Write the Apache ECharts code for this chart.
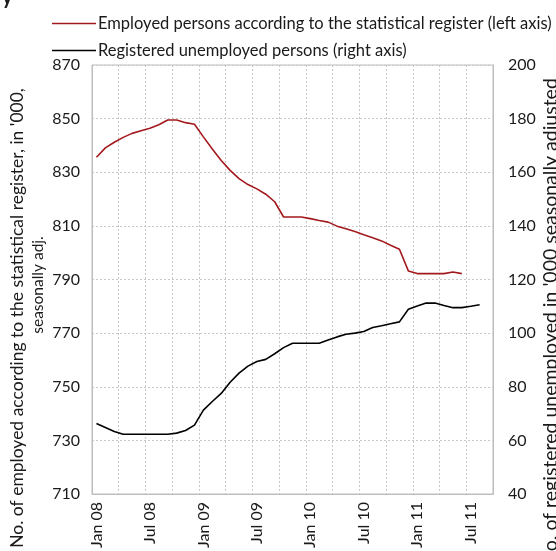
<!DOCTYPE html>
<html><head><meta charset="utf-8">
<script src="https://cdn.jsdelivr.net/npm/echarts@6/dist/echarts.min.js"></script>
<style>html,body{margin:0;padding:0;background:#fff}#c{width:556px;height:551px}</style>
</head><body><div id="c"></div>
<script>
const months = ['Jan 08','Feb 08','Mar 08','Apr 08','May 08','Jun 08','Jul 08','Aug 08','Sep 08','Oct 08','Nov 08','Dec 08',
  'Jan 09','Feb 09','Mar 09','Apr 09','May 09','Jun 09','Jul 09','Aug 09','Sep 09','Oct 09','Nov 09','Dec 09',
  'Jan 10','Feb 10','Mar 10','Apr 10','May 10','Jun 10','Jul 10','Aug 10','Sep 10','Oct 10','Nov 10','Dec 10',
  'Jan 11','Feb 11','Mar 11','Apr 11','May 11','Jun 11','Jul 11','Aug 11','Sep 11'];
const employed = [835.6,839.1,841.2,843.0,844.5,845.5,846.4,847.7,849.5,849.5,848.5,847.9,
  843.2,838.7,834.4,830.7,827.6,825.4,823.8,821.8,819.0,813.3,813.3,813.3,
  812.7,812.0,811.4,809.9,808.9,807.9,806.7,805.6,804.4,802.8,801.3,793.2,
  792.2,792.2,792.2,792.2,792.8,792.2,null,null,null];
const unemployed = [66.3,64.8,63.3,62.3,62.3,62.3,62.3,62.3,62.3,62.7,63.7,65.7,
  71.3,74.5,77.5,81.7,85.1,87.7,89.4,90.2,92.3,94.6,96.2,96.2,
  96.2,96.2,97.4,98.6,99.6,100.0,100.6,102.1,102.75,103.5,104.2,108.9,
  110.1,111.2,111.2,110.3,109.5,109.5,110.0,110.6,null];
const seriesNames = ['Employed persons according to the statistical register (left axis)','Registered unemployed persons (right axis)'];
const leftAxisTitle = ["No. of employed according to the statistical register, in '000,", 'seasonally adj.'];
const rightAxisTitle = "No. of registered unemployed in '000 seasonally adjusted";
const titleFragment = 'y';
const leftRange = [710, 870];
const rightRange = [40, 200];
const tickStep = 20;

const FONT = 'Lato';
const red = '#a31a1e';
const ink = '#1a1a1a';
const splitStyle = {color:'#c8c8c8', width:1, type:[2,2]};

const chart = echarts.init(document.getElementById('c'));
chart.setOption({
  animation:false,
  textStyle:{fontFamily:FONT},
  legend:{orient:'vertical', left:47, top:10, itemWidth:44, itemHeight:1.6, itemGap:10,
    icon:'rect', textStyle:{fontFamily:FONT, fontSize:16.5, color:ink, padding:[0,0,0,-3]},
    data:seriesNames},
  grid:{left:92, right:63, top:65, bottom:57, show:true, borderColor:'#bdbdbd', borderWidth:1, outerBoundsMode:'none'},
  xAxis:{type:'category', data:months, boundaryGap:true,
    axisLine:{lineStyle:{color:'#bdbdbd'}}, axisTick:{show:false, interval:2},
    axisLabel:{interval:5, rotate:90, margin:8, fontFamily:FONT, fontSize:16, color:ink},
    splitLine:{show:true, interval:2, lineStyle:splitStyle}},
  yAxis:[
    {type:'value', min:leftRange[0], max:leftRange[1], interval:tickStep, position:'left',
     axisLine:{show:true, lineStyle:{color:'#bdbdbd'}}, axisTick:{show:false},
     axisLabel:{margin:12, fontFamily:FONT, fontSize:16, color:ink},
     splitLine:{show:true, lineStyle:splitStyle}},
    {type:'value', min:rightRange[0], max:rightRange[1], interval:tickStep, position:'right',
     axisLine:{show:true, lineStyle:{color:'#bdbdbd'}}, axisTick:{show:false},
     axisLabel:{margin:15, fontFamily:FONT, fontSize:16, color:ink},
     splitLine:{show:false}}
  ],
  graphic:[
    {type:'text', x:2, y:8, style:{text:titleFragment, font:'bold 20px '+FONT, fill:ink, align:'left', verticalAlign:'bottom'}},
    {type:'text', x:17, y:318, rotation:Math.PI/2, style:{text:leftAxisTitle[0], font:'17.5px '+FONT, fill:ink, align:'center', verticalAlign:'middle'}},
    {type:'text', x:38, y:285, rotation:Math.PI/2, style:{text:leftAxisTitle[1], font:'15.5px '+FONT, fill:ink, align:'center', verticalAlign:'middle'}},
    {type:'text', x:551, y:322, rotation:Math.PI/2, style:{text:rightAxisTitle, font:'19.5px '+FONT, fill:ink, align:'center', verticalAlign:'middle'}}
  ],
  series:[
    {name:seriesNames[0], type:'line', yAxisIndex:0, data:employed, showSymbol:false, symbol:'none', lineStyle:{color:red, width:1.6}, itemStyle:{color:red}},
    {name:seriesNames[1], type:'line', yAxisIndex:1, data:unemployed, showSymbol:false, symbol:'none', lineStyle:{color:'#000', width:1.6}, itemStyle:{color:'#000'}}
  ]
});
</script></body></html>
